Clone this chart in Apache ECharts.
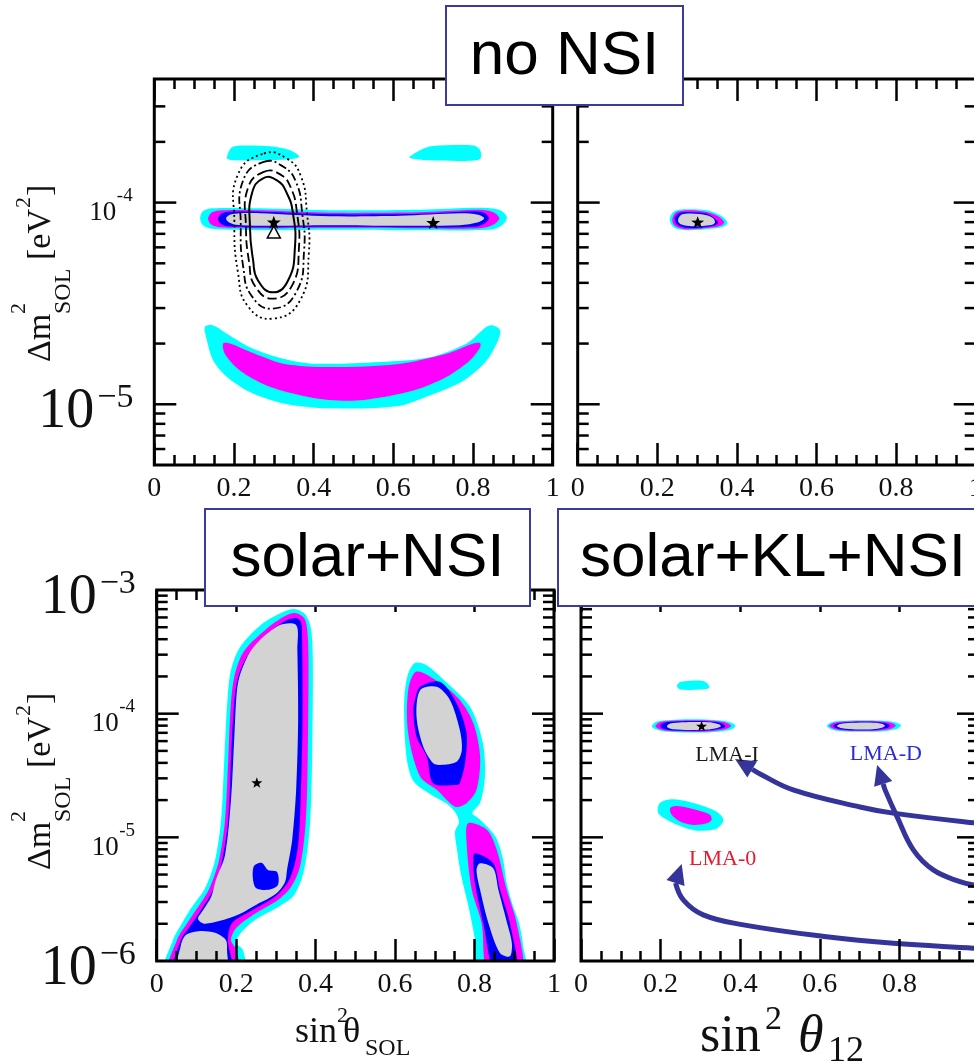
<!DOCTYPE html>
<html>
<head>
<meta charset="utf-8">
<script src="https://cdn.jsdelivr.net/npm/echarts@6/dist/echarts.min.js"></script>
<style>
html, body { margin: 0; padding: 0; background: #fff; }
#chart { width: 974px; height: 1063px; }
</style>
</head>
<body>
<div id="chart"></div>
<script>
// ---------- data (sin^2 theta, delta m^2 in eV^2) ----------
const panelTitles = ['no NSI', 'solar+NSI', 'solar+KL+NSI'];
const xTickLabels = ['0', '0.2', '0.4', '0.6', '0.8', '1'];
const yMajorTicks = [1e-6, 1e-5, 1e-4, 1e-3];
const yMinorSteps = [2, 3, 4, 5, 6, 7, 8, 9];
const topYLabels = [1e-4, 1e-5];
const bottomYLabels = [1e-3, 1e-4, 1e-5, 1e-6];

// no NSI, solar only
const tlBlobLeftCyan = [[.182,1.68e-4],[.195,1.88e-4],[.228,1.92e-4],[.290,1.90e-4],[.341,1.82e-4],[.361,1.72e-4],[.363,1.68e-4],[.341,1.64e-4],[.265,1.62e-4],[.203,1.62e-4],[.185,1.64e-4]];
const tlBlobRightCyan = [[.640,1.68e-4],[.675,1.85e-4],[.700,1.91e-4],[.801,1.92e-4],[.818,1.82e-4],[.818,1.65e-4],[.784,1.61e-4],[.692,1.62e-4],[.650,1.65e-4]];
const tlBandCyan = [[.115,8.36e-5],[.122,9.06e-5],[.145,9.37e-5],[.265,9.37e-5],[.441,9.16e-5],[.667,9.21e-5],[.818,9.42e-5],[.868,9.16e-5],[.885,8.45e-5],[.873,7.72e-5],[.843,7.33e-5],[.667,7.29e-5],[.441,7.33e-5],[.265,7.29e-5],[.145,7.41e-5],[.122,7.72e-5]];
const tlBandMagenta = [[.135,8.36e-5],[.145,8.95e-5],[.170,9.16e-5],[.265,9.16e-5],[.441,8.90e-5],[.667,8.95e-5],[.818,9.21e-5],[.851,8.95e-5],[.866,8.36e-5],[.853,7.81e-5],[.818,7.46e-5],[.667,7.46e-5],[.441,7.50e-5],[.265,7.46e-5],[.165,7.54e-5],[.142,7.81e-5]];
const tlBandBlue = [[.160,8.36e-5],[.170,8.85e-5],[.195,9.0e-5],[.265,9.0e-5],[.441,8.75e-5],[.667,8.80e-5],[.805,9.06e-5],[.830,8.85e-5],[.840,8.36e-5],[.830,7.90e-5],[.805,7.58e-5],[.667,7.54e-5],[.441,7.58e-5],[.265,7.54e-5],[.185,7.63e-5],[.165,7.90e-5]];
const tlBandGray = [[.180,8.36e-5],[.190,8.70e-5],[.215,8.85e-5],[.265,8.85e-5],[.441,8.55e-5],[.617,8.60e-5],[.767,8.85e-5],[.813,8.70e-5],[.828,8.36e-5],[.813,7.98e-5],[.767,7.72e-5],[.617,7.67e-5],[.441,7.72e-5],[.265,7.67e-5],[.205,7.76e-5],[.187,7.98e-5]];
const tlLowCyan = [[.127,2.42e-5],[.132,2.08e-5],[.148,1.65e-5],[.182,1.37e-5],[.240,1.15e-5],[.324,1.01e-5],[.441,9.55e-6],[.608,9.77e-6],[.692,1.11e-5],[.776,1.31e-5],[.834,1.65e-5],[.863,2.08e-5],[.868,2.33e-5],[.851,2.46e-5],[.834,2.42e-5],[.784,2.0e-5],[.692,1.71e-5],[.567,1.62e-5],[.399,1.59e-5],[.324,1.68e-5],[.240,1.92e-5],[.182,2.24e-5],[.148,2.46e-5]];
const tlLowMagenta = [[.173,2.0e-5],[.177,1.78e-5],[.215,1.47e-5],[.282,1.24e-5],[.366,1.11e-5],[.441,1.05e-5],[.525,1.05e-5],[.650,1.17e-5],[.734,1.37e-5],[.792,1.65e-5],[.818,1.92e-5],[.818,2.01e-5],[.801,2.0e-5],[.734,1.78e-5],[.608,1.58e-5],[.441,1.53e-5],[.324,1.59e-5],[.240,1.82e-5],[.190,2.0e-5]];
// KamLAND contours
const tlKlSolid = [[.273,1.32e-4],[.308,1.29e-4],[.333,1.11e-4],[.348,8.85e-5],[.353,6.0e-5],[.336,4.12e-5],[.298,3.59e-5],[.260,4.12e-5],[.248,5.18e-5],[.240,7.62e-5],[.245,1.11e-4]];
const tlKlDashed = [[.275,1.42e-4],[.316,1.38e-4],[.343,1.18e-4],[.358,8.95e-5],[.363,5.93e-5],[.346,3.89e-5],[.298,3.34e-5],[.253,3.85e-5],[.238,5.06e-5],[.230,7.62e-5],[.235,1.18e-4]];
const tlKlDashDot = [[.275,1.59e-4],[.323,1.51e-4],[.356,1.26e-4],[.371,8.95e-5],[.376,5.80e-5],[.356,3.59e-5],[.298,2.98e-5],[.245,3.43e-5],[.223,4.83e-5],[.217,7.80e-5],[.223,1.29e-4]];
const tlKlDotted = [[.275,1.75e-4],[.331,1.66e-4],[.368,1.35e-4],[.383,8.95e-5],[.388,5.67e-5],[.366,3.28e-5],[.298,2.66e-5],[.235,3.06e-5],[.210,4.51e-5],[.201,7.98e-5],[.210,1.38e-4]];
const tlBestFit = [[0.3, 8.0e-5], [0.7, 7.96e-5]];
const tlKlBestFit = [[0.3, 7.15e-5]];

// no NSI, solar + KamLAND
const trCyan = [[.232,8.48e-5],[.244,9.09e-5],[.274,9.26e-5],[.324,9.16e-5],[.358,8.65e-5],[.376,8.01e-5],[.370,7.66e-5],[.341,7.43e-5],[.274,7.29e-5],[.244,7.48e-5],[.234,7.87e-5]];
const trMagenta = [[.239,8.48e-5],[.249,8.98e-5],[.278,9.16e-5],[.324,8.98e-5],[.353,8.55e-5],[.368,8.01e-5],[.362,7.72e-5],[.337,7.52e-5],[.278,7.37e-5],[.249,7.57e-5],[.239,7.92e-5]];
const trBlue = [[.244,8.43e-5],[.255,8.88e-5],[.282,8.98e-5],[.324,8.82e-5],[.341,8.43e-5],[.353,7.96e-5],[.345,7.72e-5],[.324,7.57e-5],[.282,7.48e-5],[.255,7.66e-5],[.246,7.96e-5]];
const trGray = [[.253,8.33e-5],[.261,8.72e-5],[.286,8.82e-5],[.324,8.65e-5],[.341,8.33e-5],[.345,7.96e-5],[.337,7.74e-5],[.286,7.63e-5],[.261,7.78e-5],[.253,8.01e-5]];
const trBestFit = [[0.3015, 8.0e-5]];

// solar + NSI
const blLeftCyan = [[.021,8e-7],[.041,1.48e-6],[.064,2.03e-6],[.089,2.74e-6],[.122,3.90e-6],[.147,6.57e-6],[.162,1.38e-5],[.170,4.22e-5],[.178,1.29e-4],[.187,2.25e-4],[.210,3.46e-4],[.265,5.31e-4],[.318,6.64e-4],[.346,7.02e-4],[.373,6.40e-4],[.388,4.93e-4],[.393,2.72e-4],[.391,4.22e-5],[.386,1.31e-5],[.371,5.45e-6],[.346,3.42e-6],[.310,2.79e-6],[.247,2.15e-6],[.212,1.69e-6],[.200,1.40e-6],[.217,1.23e-6],[.220,8e-7]];
const blLeftMagenta = [[.031,8e-7],[.051,1.48e-6],[.074,1.96e-6],[.101,2.64e-6],[.132,3.83e-6],[.157,6.57e-6],[.172,1.38e-5],[.180,4.22e-5],[.187,1.24e-4],[.197,2.09e-4],[.220,3.21e-4],[.276,4.84e-4],[.323,6.16e-4],[.348,6.52e-4],[.371,5.94e-4],[.379,4.75e-4],[.382,2.72e-4],[.380,4.22e-5],[.375,1.33e-5],[.361,5.87e-6],[.338,3.97e-6],[.305,3.12e-6],[.242,2.36e-6],[.200,1.85e-6],[.187,1.48e-6],[.200,1.23e-6],[.205,8e-7]];
const blLeftBlue = [[.044,8e-7],[.061,1.48e-6],[.084,1.92e-6],[.112,2.59e-6],[.142,3.76e-6],[.164,6.33e-6],[.180,1.38e-5],[.187,4.22e-5],[.195,1.22e-4],[.205,1.98e-4],[.230,2.98e-4],[.280,4.49e-4],[.328,5.72e-4],[.351,5.94e-4],[.363,5.51e-4],[.366,3.94e-4],[.367,8.89e-5],[.363,2.42e-5],[.356,8.68e-6],[.336,4.70e-6],[.300,3.36e-6],[.237,2.54e-6],[.190,2.03e-6],[.179,1.48e-6],[.187,8e-7]];
const blLeftGray = [[.305,5.12e-4],[.351,5.21e-4],[.354,3.27e-4],[.356,8.89e-5],[.351,2.42e-5],[.341,9.53e-6],[.328,5.45e-6],[.323,4.36e-6],[.300,3.49e-6],[.250,2.84e-6],[.197,2.31e-6],[.122,2.0e-6],[.104,2.19e-6],[.117,2.59e-6],[.137,3.3e-6],[.149,4.52e-6],[.172,7.21e-6],[.187,2.01e-5],[.195,6.13e-5],[.202,1.55e-4],[.212,2.17e-4],[.242,3.40e-4]];
const blLobeGray = [[.054,8e-7],[.061,1.35e-6],[.074,1.63e-6],[.109,1.75e-6],[.147,1.69e-6],[.174,1.48e-6],[.177,1.23e-6],[.174,8e-7]];
const blNotchBlue = [[.245,5.87e-6],[.265,6.21e-6],[.280,5.45e-6],[.303,5.25e-6],[.305,4.12e-6],[.280,3.76e-6],[.250,3.90e-6],[.242,4.70e-6]];
const blRightCyan = [[.650,2.57e-4],[.678,2.48e-4],[.731,1.77e-4],[.789,1.13e-4],[.821,5.80e-5],[.826,3.08e-5],[.814,1.90e-5],[.794,1.57e-5],[.809,1.43e-5],[.839,1.15e-5],[.857,9.53e-6],[.872,6.57e-6],[.881,4.28e-6],[.896,2.84e-6],[.912,2.03e-6],[.922,1.35e-6],[.927,8e-7],[.814,8e-7],[.799,1.63e-6],[.784,2.84e-6],[.766,4.97e-6],[.756,7.91e-6],[.751,1.11e-5],[.761,1.33e-5],[.751,1.60e-5],[.731,1.86e-5],[.688,2.24e-5],[.648,2.80e-5],[.632,3.85e-5],[.625,6.13e-5],[.623,1.29e-4],[.632,2.06e-4]];
const blIslandMagenta = [[.654,2.19e-4],[.633,1.55e-4],[.633,6.94e-5],[.663,3.10e-5],[.705,2.42e-5],[.751,1.77e-5],[.780,1.89e-5],[.805,2.42e-5],[.814,4.49e-5],[.797,8.36e-5],[.763,1.29e-4],[.713,1.77e-4]];
const blStripMagenta = [[.784,1.30e-5],[.831,1.15e-5],[.856,7.91e-6],[.881,3.76e-6],[.906,2.02e-6],[.919,8e-7],[.835,8e-7],[.818,2.02e-6],[.793,3.76e-6],[.780,8.96e-6]];
const blIslandBlue = [[.663,1.65e-4],[.713,1.81e-4],[.755,1.21e-4],[.780,6.94e-5],[.776,3.97e-5],[.763,2.74e-5],[.755,2.65e-5],[.696,2.74e-5],[.680,4.49e-5],[.654,6.52e-5],[.646,1.07e-4],[.650,1.29e-4]];
const blStripBlue = [[.801,7.44e-6],[.847,6.17e-6],[.864,3.76e-6],[.889,2.02e-6],[.906,8e-7],[.852,8e-7],[.822,2.02e-6],[.801,4.26e-6],[.797,6.17e-6]];
const blIslandGray = [[.663,1.55e-4],[.705,1.65e-4],[.738,1.29e-4],[.763,7.38e-5],[.768,5.09e-5],[.755,4.09e-5],[.713,3.85e-5],[.696,3.97e-5],[.671,5.41e-5],[.654,9.45e-5]];
const blStripGray = [[.814,6.17e-6],[.847,5.62e-6],[.860,3.76e-6],[.882,2.02e-6],[.894,1.39e-6],[.889,1.09e-6],[.864,1.16e-6],[.835,2.02e-6],[.814,3.76e-6],[.805,5.45e-6]];
const blBestFit = [[0.252, 2.77e-5]];

// solar + KamLAND + NSI
const brTopCyan = [[.241,1.68e-4],[.249,1.80e-4],[.274,1.85e-4],[.307,1.84e-4],[.319,1.74e-4],[.322,1.61e-4],[.299,1.57e-4],[.249,1.57e-4]];
const brICyan = [[.178,7.95e-5],[.191,8.65e-5],[.236,8.93e-5],[.312,8.98e-5],[.362,8.73e-5],[.382,8.33e-5],[.388,7.95e-5],[.377,7.45e-5],[.337,7.11e-5],[.274,7.05e-5],[.211,7.18e-5],[.186,7.52e-5]];
const brIMagenta = [[.187,7.95e-5],[.198,8.54e-5],[.241,8.80e-5],[.312,8.83e-5],[.354,8.60e-5],[.372,8.26e-5],[.377,7.91e-5],[.364,7.52e-5],[.329,7.22e-5],[.274,7.15e-5],[.216,7.27e-5],[.193,7.59e-5]];
const brIBlue = [[.198,7.95e-5],[.209,8.44e-5],[.246,8.67e-5],[.312,8.70e-5],[.344,8.51e-5],[.359,8.19e-5],[.363,7.89e-5],[.352,7.58e-5],[.324,7.33e-5],[.274,7.26e-5],[.221,7.38e-5],[.204,7.63e-5]];
const brIGray = [[.216,7.95e-5],[.224,8.32e-5],[.254,8.52e-5],[.312,8.55e-5],[.337,8.38e-5],[.349,8.13e-5],[.351,7.89e-5],[.339,7.63e-5],[.317,7.44e-5],[.274,7.37e-5],[.231,7.48e-5],[.219,7.69e-5]];
const brDCyan = [[.618,7.95e-5],[.631,8.57e-5],[.676,8.81e-5],[.751,8.80e-5],[.789,8.52e-5],[.804,8.03e-5],[.791,7.48e-5],[.751,7.18e-5],[.676,7.15e-5],[.633,7.38e-5]];
const brDMagenta = [[.624,7.95e-5],[.638,8.47e-5],[.681,8.68e-5],[.746,8.68e-5],[.779,8.44e-5],[.791,8.01e-5],[.779,7.55e-5],[.744,7.29e-5],[.681,7.25e-5],[.641,7.45e-5]];
const brDBlue = [[.633,7.95e-5],[.646,8.38e-5],[.686,8.57e-5],[.741,8.57e-5],[.766,8.36e-5],[.776,8.0e-5],[.766,7.62e-5],[.739,7.38e-5],[.686,7.34e-5],[.648,7.52e-5]];
const brDGray = [[.643,7.95e-5],[.653,8.29e-5],[.691,8.46e-5],[.736,8.46e-5],[.756,8.29e-5],[.764,7.98e-5],[.756,7.69e-5],[.734,7.49e-5],[.691,7.45e-5],[.656,7.62e-5]];
const br0Cyan = [[.198,1.89e-5],[.232,2.03e-5],[.299,1.83e-5],[.341,1.61e-5],[.358,1.38e-5],[.341,1.18e-5],[.299,1.13e-5],[.266,1.18e-5],[.224,1.34e-5],[.194,1.57e-5]];
const br0Magenta = [[.224,1.72e-5],[.240,1.79e-5],[.291,1.66e-5],[.324,1.52e-5],[.328,1.38e-5],[.316,1.30e-5],[.282,1.26e-5],[.249,1.34e-5],[.228,1.52e-5]];
const brBestFit = [[0.303, 7.95e-5]];
const brLabels = ['LMA-I', 'LMA-D', 'LMA-0'];
const brLabelPos = [[.367, 4.64e-5], [.766, 4.72e-5], [.356, 6.63e-6]];
const brArrowI = [[1.053,1.26e-5],[.987,1.31e-5],[.784,1.57e-5],[.701,1.76e-5],[.533,2.42e-5],[.450,3.25e-5],[.387,4.30e-5]];
const brArrowD = [[1.053,3.90e-6],[.987,4.12e-6],[.952,4.38e-6],[.885,5.45e-6],[.835,7.91e-6],[.794,1.47e-5],[.764,2.42e-5],[.744,3.85e-5]];
const brArrow0 = [[1.053,1.23e-6],[.987,1.27e-6],[.785,1.39e-6],[.617,1.57e-6],[.408,1.96e-6],[.307,2.36e-6],[.257,3.12e-6],[.240,4.52e-6],[.253,6.09e-6]];

// ---------- styling ----------
const SERIF = '"Liberation Serif", "DejaVu Serif", serif';
const SANS = '"Liberation Sans", Arial, sans-serif';
const CYAN = '#00ffff', MAGENTA = '#ff00ff', BLUE = '#0000ff', GRAY = '#d3d3d3';
const BOX = '#3b3b9b', ARROW = '#34349a', INK = '#111';
const STAR = 'path://M0,-10L2.35,-3.24L9.51,-3.09L3.8,1.24L5.88,8.09L0,4L-5.88,8.09L-3.8,1.24L-9.51,-3.09L-2.35,-3.24Z';

const panels = [
  { left: 154.3, top: 79, width: 398.4, height: 386, ymin: 5e-6, ymax: 4.1e-4 },
  { left: 577.7, top: 79, width: 398, height: 386, ymin: 5e-6, ymax: 4.1e-4 },
  { left: 156.7, top: 590, width: 397.3, height: 371, ymin: 1e-6, ymax: 1e-3 },
  { left: 581, top: 590, width: 398, height: 371, ymin: 1e-6, ymax: 1e-3 }
];

const regionLayers = [
  [
    { pts: tlBlobLeftCyan, fill: CYAN }, { pts: tlBlobRightCyan, fill: CYAN },
    { pts: tlBandCyan, fill: CYAN }, { pts: tlBandMagenta, fill: MAGENTA },
    { pts: tlBandBlue, fill: BLUE }, { pts: tlBandGray, fill: GRAY },
    { pts: tlLowCyan, fill: CYAN }, { pts: tlLowMagenta, fill: MAGENTA }
  ],
  [
    { pts: trCyan, fill: CYAN }, { pts: trMagenta, fill: MAGENTA },
    { pts: trBlue, fill: BLUE }, { pts: trGray, fill: GRAY }
  ],
  [
    { pts: blLeftCyan, fill: CYAN }, { pts: blLeftMagenta, fill: MAGENTA },
    { pts: blLeftBlue, fill: BLUE }, { pts: blLeftGray, fill: GRAY },
    { pts: blLobeGray, fill: GRAY }, { pts: blNotchBlue, fill: BLUE },
    { pts: blRightCyan, fill: CYAN }, { pts: blIslandMagenta, fill: MAGENTA },
    { pts: blStripMagenta, fill: MAGENTA }, { pts: blIslandBlue, fill: BLUE },
    { pts: blStripBlue, fill: BLUE }, { pts: blIslandGray, fill: GRAY },
    { pts: blStripGray, fill: GRAY }
  ],
  [
    { pts: brTopCyan, fill: CYAN },
    { pts: brICyan, fill: CYAN }, { pts: brIMagenta, fill: MAGENTA },
    { pts: brIBlue, fill: BLUE }, { pts: brIGray, fill: GRAY },
    { pts: brDCyan, fill: CYAN }, { pts: brDMagenta, fill: MAGENTA },
    { pts: brDBlue, fill: BLUE }, { pts: brDGray, fill: GRAY },
    { pts: br0Cyan, fill: CYAN }, { pts: br0Magenta, fill: MAGENTA }
  ]
];

const klCurves = [
  { pts: tlKlSolid, dash: null, w: 2 },
  { pts: tlKlDashed, dash: [9, 4], w: 1.8 },
  { pts: tlKlDashDot, dash: [8, 3, 2, 3], w: 1.8 },
  { pts: tlKlDotted, dash: [2, 3], w: 1.8 }
];
const brArrows = [brArrowI, brArrowD, brArrow0];
const brLabelColors = ['#1a1a1a', '#2a2ad8', '#e8192c'];

// ---------- helpers ----------
function regionSeries(gi, list) {
  return {
    type: 'custom', xAxisIndex: gi * 2, yAxisIndex: gi, clip: true, z: 2, silent: true,
    data: list.map(l => l.pts[0]),
    renderItem(params, api) {
      const l = list[params.dataIndex];
      return {
        type: 'polygon',
        shape: { points: l.pts.map(p => api.coord(p)), smooth: 0.3 },
        style: { fill: l.fill }
      };
    }
  };
}

function yTickSeries(gi) {
  const p = panels[gi];
  const inside = v => Math.log10(v / p.ymin) > 0.02 && Math.log10(p.ymax / v) > 0.02;
  const vals = [];
  yMajorTicks.forEach(d => {
    if (inside(d)) vals.push([0, d, 1]);
    yMinorSteps.forEach(s => { if (inside(d * s)) vals.push([0, d * s, 0]); });
  });
  return {
    type: 'custom', xAxisIndex: gi * 2, yAxisIndex: gi, z: 10, silent: true,
    data: vals,
    renderItem(params, api) {
      const v = api.value(1);
      const len = api.value(2) === 1 ? 22 : 11;
      const a = api.coord([0, v]), b = api.coord([1, v]);
      const st = { stroke: '#000', lineWidth: 2.5 };
      return {
        type: 'group', children: [
          { type: 'line', shape: { x1: a[0], y1: a[1], x2: a[0] + len, y2: a[1] }, style: st },
          { type: 'line', shape: { x1: b[0], y1: b[1], x2: b[0] - len, y2: b[1] }, style: st }
        ]
      };
    }
  };
}

function yLabelSeries(gi, values, bigValues) {
  return {
    type: 'custom', xAxisIndex: gi * 2, yAxisIndex: gi, z: 10, silent: true,
    data: values.map(v => [0, v]),
    renderItem(params, api) {
      const v = api.value(1);
      const p = api.coord([0, v]);
      const e = Math.round(Math.log10(v));
      if (bigValues.includes(v)) {
        return {
          type: 'group', children: [
            { type: 'text', x: p[0] - 60, y: p[1] + 8, style: { text: '10', font: '56px ' + SERIF, fill: INK, align: 'right', verticalAlign: 'middle' } },
            { type: 'text', x: p[0] - 57, y: p[1] - 6, style: { text: '\u2212' + (-e), font: '34px ' + SERIF, fill: INK, align: 'left', verticalAlign: 'middle' } }
          ]
        };
      }
      return {
        type: 'group', children: [
          { type: 'text', x: p[0] - 38, y: p[1] + 10.5, style: { text: '10', font: '27px ' + SERIF, fill: INK, align: 'right', verticalAlign: 'middle' } },
          { type: 'text', x: p[0] - 37.5, y: p[1] - 6.5, style: { text: '-' + (-e), font: '19px ' + SERIF, fill: INK, align: 'left', verticalAlign: 'middle' } }
        ]
      };
    }
  };
}

function starSeries(gi, data, size) {
  return {
    type: 'scatter', xAxisIndex: gi * 2, yAxisIndex: gi, data, symbol: STAR, symbolSize: size,
    itemStyle: { color: '#000', opacity: 1 }, z: 5, silent: true
  };
}

function xAxisOf(gi, top) {
  return {
    type: 'value', gridIndex: gi, position: top ? 'top' : 'bottom', min: 0, max: 1, interval: 0.2, z: 10,
    axisLine: { show: false }, splitLine: { show: false },
    axisTick: { show: true, inside: true, length: 22, lineStyle: { color: '#000', width: 2.5 } },
    minorTick: { show: true, splitNumber: 4, length: 10, lineStyle: { color: '#000', width: 2.5 } },
    axisLabel: {
      show: !top, margin: 10, color: INK, fontFamily: SERIF, fontSize: 28,
      formatter: v => xTickLabels[Math.round(v / 0.2)]
    }
  };
}

// text piece placed by its baseline
function piece(text, x, baseline, size, italic) {
  return {
    type: 'text', x, y: baseline - 0.3375 * size, z: 50,
    style: { text, font: (italic ? 'italic ' : '') + size + 'px ' + SERIF, fill: INK, align: 'left', verticalAlign: 'middle' }
  };
}

function yTitle(x, y) {
  return {
    type: 'group', x, y, rotation: Math.PI / 2, z: 50,
    children: [
      piece('\u0394m', 0, 0, 34), piece('2', 48, -26, 22), piece('SOL', 48, 19, 24),
      piece('[eV', 102, 0, 34), piece('2', 154, -21, 22), piece(']', 166, 0, 34)
    ]
  };
}

function titleBox(text, x, y, w, h) {
  return [
    { type: 'rect', z: 100, shape: { x, y, width: w, height: h }, style: { fill: '#fff', stroke: BOX, lineWidth: 2 } },
    { type: 'text', z: 101, x: x + w / 2, y: y + h / 2 + 1.5, style: { text, font: '62px ' + SANS, fill: '#000', align: 'center', verticalAlign: 'middle' } }
  ];
}

// ---------- option ----------
const chart = echarts.init(document.getElementById('chart'), null, { renderer: 'canvas' });

const series = [];
regionLayers.forEach((list, gi) => series.push(regionSeries(gi, list)));
series.push({
  type: 'custom', xAxisIndex: 0, yAxisIndex: 0, clip: true, z: 3, silent: true,
  data: klCurves.map(c => c.pts[0]),
  renderItem(params, api) {
    const c = klCurves[params.dataIndex];
    return {
      type: 'polygon',
      shape: { points: c.pts.map(p => api.coord(p)), smooth: 0.5 },
      style: { fill: 'none', stroke: '#000', lineWidth: c.w, lineDash: c.dash }
    };
  }
});
for (let gi = 0; gi < 4; gi++) series.push(yTickSeries(gi));
series.push(yLabelSeries(0, topYLabels, [1e-5]));
series.push(yLabelSeries(2, bottomYLabels, [1e-3, 1e-6]));
series.push(starSeries(0, tlBestFit, [14, 13]));
series.push(starSeries(1, trBestFit, [13, 12]));
series.push(starSeries(2, blBestFit, [11, 10.5]));
series.push(starSeries(3, brBestFit, [11, 10.5]));
series.push({
  type: 'scatter', xAxisIndex: 0, yAxisIndex: 0, data: tlKlBestFit, symbol: 'triangle', symbolSize: [13, 12],
  itemStyle: { color: '#fff', borderColor: '#000', borderWidth: 1.5, opacity: 1 }, z: 5, silent: true
});
series.push({
  type: 'custom', xAxisIndex: 6, yAxisIndex: 3, clip: false, z: 6, silent: true,
  data: brArrows.map(a => a[a.length - 1]),
  renderItem(params, api) {
    const pts = brArrows[params.dataIndex].map(p => api.coord(p));
    const tip = pts[pts.length - 1], prev = pts[pts.length - 2];
    let dx = tip[0] - prev[0], dy = tip[1] - prev[1];
    const L = Math.hypot(dx, dy); dx /= L; dy /= L;
    const hl = 20, hw = 9.5;
    const base = [tip[0] - dx * hl, tip[1] - dy * hl];
    const line = pts.slice(0, -1).filter(p => Math.hypot(p[0] - tip[0], p[1] - tip[1]) > hl + 4).concat([base]);
    return {
      type: 'group', children: [
        { type: 'polyline', shape: { points: line, smooth: 0.4 }, style: { stroke: ARROW, lineWidth: 5, fill: 'none' } },
        { type: 'polygon', shape: { points: [tip, [base[0] - dy * hw, base[1] + dx * hw], [base[0] + dy * hw, base[1] - dx * hw]] }, style: { fill: ARROW } }
      ]
    };
  }
});
series.push({
  type: 'custom', xAxisIndex: 6, yAxisIndex: 3, clip: false, z: 7, silent: true,
  data: brLabelPos,
  renderItem(params, api) {
    const p = api.coord([api.value(0), api.value(1)]);
    return {
      type: 'text', x: p[0], y: p[1],
      style: { text: brLabels[params.dataIndex], font: '22px ' + SERIF, fill: brLabelColors[params.dataIndex], align: 'center', verticalAlign: 'middle' }
    };
  }
});

const option = {
  animation: false,
  backgroundColor: '#fff',
  grid: panels.map(p => ({
    left: p.left, top: p.top, width: p.width, height: p.height,
    show: true, borderColor: '#000', borderWidth: 3, backgroundColor: 'rgba(0,0,0,0)',
    z: 10, containLabel: false, outerBoundsMode: 'none'
  })),
  xAxis: [0, 1, 2, 3].flatMap(gi => [xAxisOf(gi, false), xAxisOf(gi, true)]),
  yAxis: panels.map((p, gi) => ({ type: 'log', logBase: 10, gridIndex: gi, min: p.ymin, max: p.ymax, show: false })),
  graphic: {
    elements: [
      ...titleBox(panelTitles[0], 446, 6, 237, 99),
      ...titleBox(panelTitles[1], 205, 509, 325, 97),
      ...titleBox(panelTitles[2], 558, 509, 430, 97),
      yTitle(53, 362),
      yTitle(53, 870),
      piece('sin', 295, 1045, 36), piece('2', 337, 1024, 22), piece('\u03b8', 343, 1045, 36), piece('SOL', 365, 1057, 24),
      piece('sin', 700, 1055, 52), piece('2', 765, 1032, 34), piece('\u03b8', 798, 1055, 52, true), piece('12', 828, 1064, 36)
    ]
  },
  series
};

chart.setOption(option);
</script>
</body>
</html>
